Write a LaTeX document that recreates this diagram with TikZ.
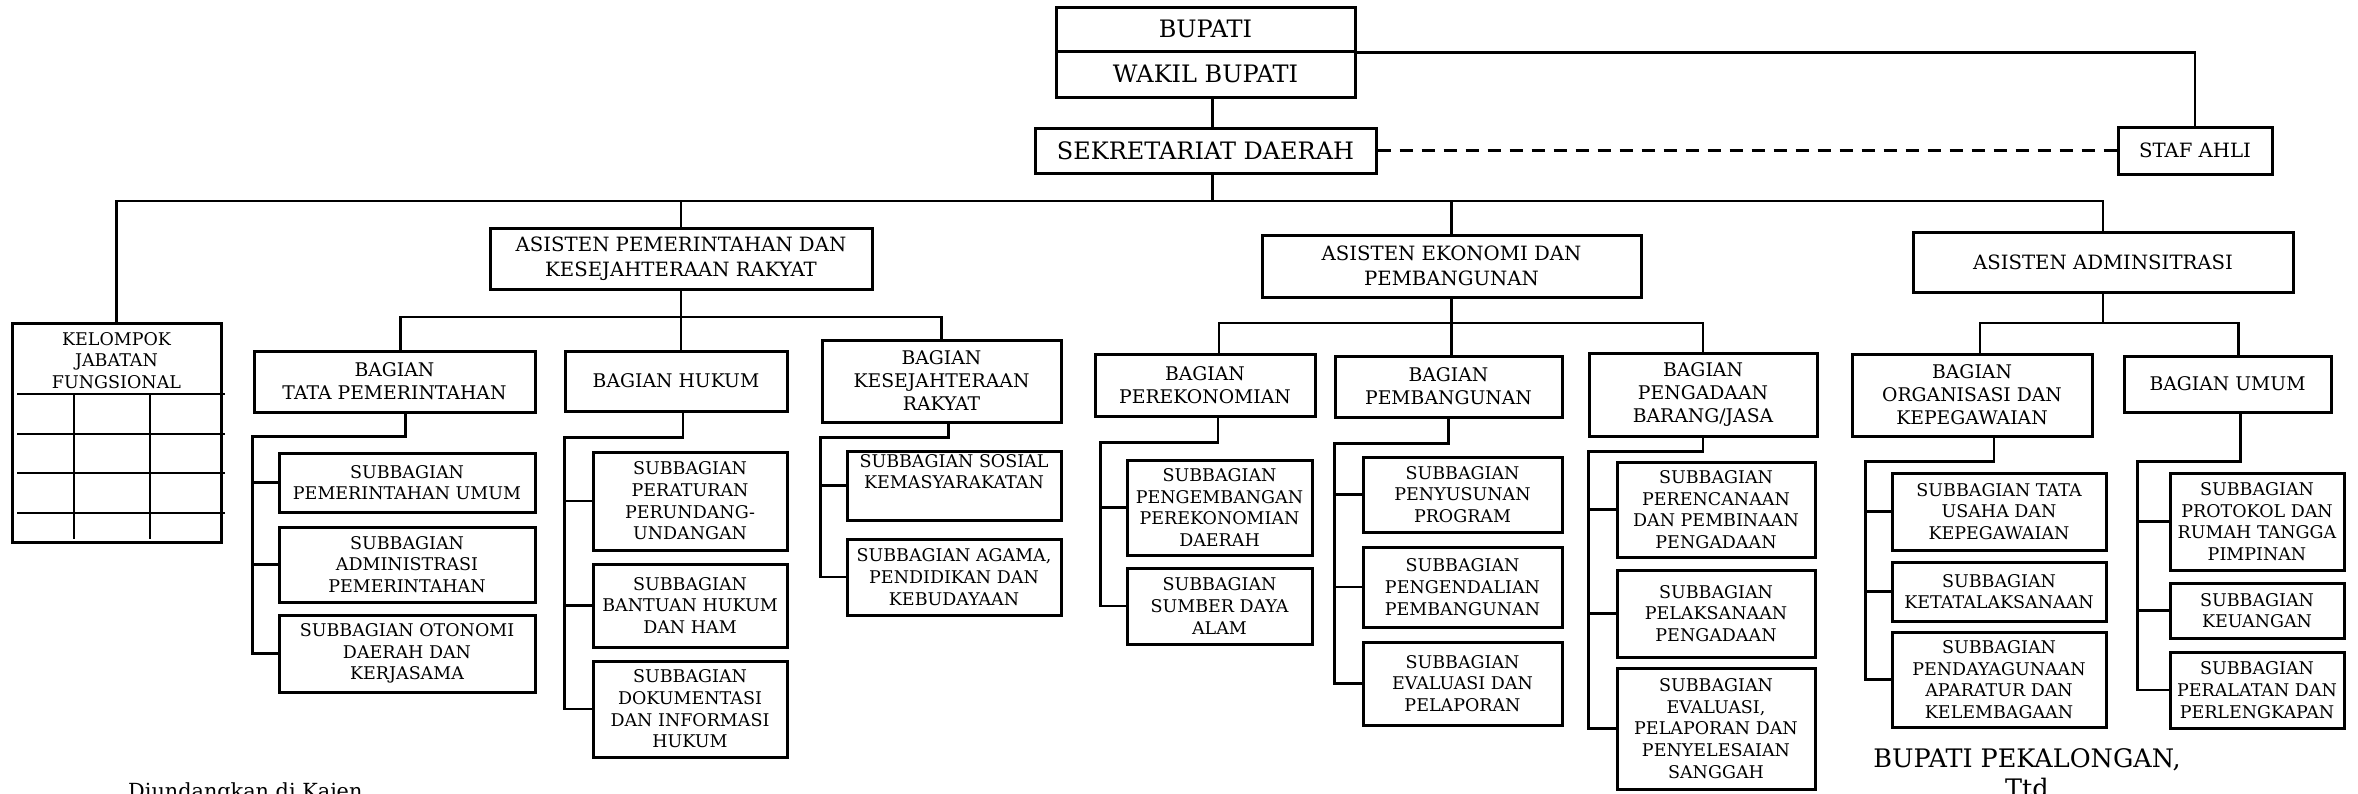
\documentclass[tikz,border=0pt]{standalone}
\usepackage{fontspec}
\setmainfont{DejaVu Serif}

\newcommand{\hrfpim}{\fontsize{24}{28}\selectfont}
\newcommand{\hrfas}{\fontsize{19.7}{25}\selectfont}
\newcommand{\hrfbag}{\fontsize{18.8}{23}\selectfont}
\newcommand{\hrfsub}{\fontsize{17.5}{21.7}\selectfont}

\tikzset{
  kotak/.style={draw, line width=3pt, align=center, inner sep=0pt},
  wh/.style 2 args={minimum width=#1, minimum height=#2},
  pimpinan/.style={kotak, font=\hrfpim},
  asisten/.style={kotak, font=\hrfas},
  bagian/.style={kotak, font=\hrfbag},
  subbag/.style={kotak, font=\hrfsub},
  garis/.style={line width=2.5pt},
}

\begin{document}
\begin{tikzpicture}[x=1pt, y=-1pt]
\useasboundingbox (0,0) rectangle (2358,793);

% pimpinan
\node[pimpinan, wh={299}{44}] (bupati) at (1205.5,29) {BUPATI};
\node[pimpinan, wh={299}{46}] (wakil) at (1205.5,74) {WAKIL BUPATI};
\node[pimpinan, wh={341}{45}] (sekda) at (1205.5,150.5) {SEKRETARIAT DAERAH};
\node[kotak, font=\fontsize{19.7}{24}\selectfont, wh={154}{47}] (staf) at (2195,150.5) {STAF AHLI};

% asisten
\node[asisten, wh={382}{61}] (aspem) at (681,258.5) {ASISTEN PEMERINTAHAN DAN\\KESEJAHTERAAN RAKYAT};
\node[asisten, wh={379}{62}] (aseko) at (1451.5,266) {ASISTEN EKONOMI DAN\\PEMBANGUNAN};
\node[asisten, wh={380}{60}] (asadm) at (2103,262) {ASISTEN ADMINSITRASI};

% kelompok jabatan fungsional
\node[kotak, wh={209}{219}] (kjf) at (116.5,432.5) {};
\node[font=\hrfsub, align=center, inner sep=0pt, anchor=north] (kjfteks) at (116.5,332) {KELOMPOK\\JABATAN\\FUNGSIONAL};
\foreach \y in {394,434,473,513}
  \draw[garis] (17,\y) -- (225,\y);
\foreach \x in {74,150}
  \draw[garis] (\x,394) -- (\x,539);

% bagian
\node[bagian, wh={281}{61}] (tapem) at (394.5,381.5) {BAGIAN\\TATA PEMERINTAHAN};
\node[bagian, wh={222}{60}] (hukum) at (676,381) {BAGIAN HUKUM};
\node[bagian, wh={239}{82}] (kesra) at (941.5,381) {BAGIAN\\KESEJAHTERAAN\\RAKYAT};
\node[bagian, wh={220}{62}] (ekon) at (1205,385) {BAGIAN\\PEREKONOMIAN};
\node[bagian, wh={227}{61}] (pemb) at (1448.5,386.5) {BAGIAN\\PEMBANGUNAN};
\node[bagian, wh={228}{83}] (pbj) at (1703,394.5) {BAGIAN\\PENGADAAN\\BARANG/JASA};
\node[bagian, wh={240}{82}] (org) at (1972,395) {BAGIAN\\ORGANISASI DAN\\KEPEGAWAIAN};
\node[bagian, wh={207}{56}] (umum) at (2227.5,384) {BAGIAN UMUM};

% subbagian
\node[subbag, wh={256}{59}] (s11) at (407,482.5) {SUBBAGIAN\\PEMERINTAHAN UMUM};
\node[subbag, wh={256}{75}] (s12) at (407,564.5) {SUBBAGIAN\\ADMINISTRASI\\PEMERINTAHAN};
\node[subbag, wh={256}{77}] (s13) at (407,653.5) {SUBBAGIAN OTONOMI\\DAERAH DAN\\KERJASAMA};

\node[subbag, wh={194}{98}] (s21) at (690,501) {SUBBAGIAN\\PERATURAN\\PERUNDANG-\\UNDANGAN};
\node[subbag, wh={194}{83}] (s22) at (690,605.5) {SUBBAGIAN\\BANTUAN HUKUM\\DAN HAM};
\node[subbag, wh={194}{96}] (s23) at (690,709) {SUBBAGIAN\\DOKUMENTASI\\DAN INFORMASI\\HUKUM};

\node[subbag, wh={214}{69}] (s31) at (954,485.5) {SUBBAGIAN SOSIAL\\KEMASYARAKATAN\\\strut};
\node[subbag, wh={214}{76}] (s32) at (954,577) {SUBBAGIAN AGAMA,\\PENDIDIKAN DAN\\KEBUDAYAAN};

\node[subbag, wh={185}{95}] (s41) at (1219.5,507.5) {SUBBAGIAN\\PENGEMBANGAN\\PEREKONOMIAN\\DAERAH};
\node[subbag, wh={185}{76}] (s42) at (1219.5,606) {SUBBAGIAN\\SUMBER DAYA\\ALAM};

\node[subbag, wh={199}{75}] (s51) at (1462.5,494.5) {SUBBAGIAN\\PENYUSUNAN\\PROGRAM};
\node[subbag, wh={199}{80}] (s52) at (1462.5,587) {SUBBAGIAN\\PENGENDALIAN\\PEMBANGUNAN};
\node[subbag, wh={199}{83}] (s53) at (1462.5,683.5) {SUBBAGIAN\\EVALUASI DAN\\PELAPORAN};

\node[subbag, wh={198}{95}] (s61) at (1716,509.5) {SUBBAGIAN\\PERENCANAAN\\DAN PEMBINAAN\\PENGADAAN};
\node[subbag, wh={198}{87}] (s62) at (1716,613.5) {SUBBAGIAN\\PELAKSANAAN\\PENGADAAN};
\node[subbag, wh={198}{121}] (s63) at (1716,728.5) {SUBBAGIAN\\EVALUASI,\\PELAPORAN DAN\\PENYELESAIAN\\SANGGAH};

\node[subbag, wh={214}{77}] (s71) at (1999,511.5) {SUBBAGIAN TATA\\USAHA DAN\\KEPEGAWAIAN};
\node[subbag, wh={214}{59}] (s72) at (1999,591.5) {SUBBAGIAN\\KETATALAKSANAAN};
\node[subbag, wh={214}{95}] (s73) at (1999,679.5) {SUBBAGIAN\\PENDAYAGUNAAN\\APARATUR DAN\\KELEMBAGAAN};

\node[subbag, wh={174}{97}] (s81) at (2257,521.5) {SUBBAGIAN\\PROTOKOL DAN\\RUMAH TANGGA\\PIMPINAN};
\node[subbag, wh={174}{55}] (s82) at (2257,610.5) {SUBBAGIAN\\KEUANGAN};
\node[subbag, wh={174}{76}] (s83) at (2257,690) {SUBBAGIAN\\PERALATAN DAN\\PERLENGKAPAN};

% garis pimpinan
\draw[garis] (bupati.south east) -| (staf.north);
\draw[garis] ([xshift=7pt]wakil.south) -- ([xshift=7pt]sekda.north);
\draw[garis, line width=3pt, dash pattern=on 13pt off 9pt] (sekda.east) -- (staf.west);
\coordinate (bus) at (117,201);
\draw[garis] ([xshift=7pt]sekda.south) -- ([xshift=7pt]sekda.south |- bus);
\draw[garis] (kjf.north) |- (asadm.north |- bus) -- (asadm.north);
\draw[garis] (aspem.north) -- (aspem.north |- bus);
\draw[garis] (aseko.north) -- (aseko.north |- bus);

% asisten ke bagian
\coordinate (bus1) at (400,317);
\draw[garis] (aspem.south) -- (aspem.south |- hukum.north);
\draw[garis] ([xshift=6pt]tapem.north) |- (kesra.north |- bus1) -- (kesra.north);
\coordinate (bus2) at (1219,323);
\draw[garis] (aseko.south) -- (aseko.south |- pemb.north);
\draw[garis] ([xshift=14pt]ekon.north) |- (pbj.north |- bus2) -- (pbj.north);
\draw[garis] (asadm.south) -- (asadm.south |- bus2);
\draw[garis] ([xshift=8pt]org.north) |- ([xshift=11pt]umum.north |- bus2) -- ([xshift=11pt]umum.north);

% bagian ke subbagian
\draw[garis] ([xshift=11pt]tapem.south) -- ++(0,23) -| ([xshift=-25pt]s13.west) -- (s13.west);
\foreach \s in {s11,s12}
  \draw[garis] (\s.west) -- ++(-25,0);
\draw[garis] ([xshift=7pt]hukum.south) -- ++(0,25) -| ([xshift=-27pt]s23.west) -- (s23.west);
\foreach \s in {s21,s22}
  \draw[garis] (\s.west) -- ++(-27,0);
\draw[garis] ([xshift=7pt]kesra.south) -- ++(0,14) -| ([xshift=-25pt]s32.west) -- (s32.west);
\draw[garis] (s31.west) -- ++(-25,0);
\draw[garis] ([xshift=13pt]ekon.south) -- ++(0,25) -| ([xshift=-25pt]s42.west) -- (s42.west);
\draw[garis] (s41.west) -- ++(-25,0);
\draw[garis] (pemb.south) -- ++(0,25) -| ([xshift=-27pt]s53.west) -- (s53.west);
\foreach \s in {s51,s52}
  \draw[garis] (\s.west) -- ++(-27,0);
\draw[garis] (pbj.south) -- ++(0,14) -| ([xshift=-27pt]s63.west) -- (s63.west);
\foreach \s in {s61,s62}
  \draw[garis] (\s.west) -- ++(-27,0);
\draw[garis] ([xshift=22pt]org.south) -- ++(0,24) -| ([xshift=-25pt]s73.west) -- (s73.west);
\foreach \s in {s71,s72}
  \draw[garis] (\s.west) -- ++(-25,0);
\draw[garis] ([xshift=13pt]umum.south) -- ++(0,48) -| ([xshift=-31pt]s83.west) -- (s83.west);
\foreach \s in {s81,s82}
  \draw[garis] (\s.west) -- ++(-31,0);

% pengesahan
\node[font=\fontsize{25.5}{30}\selectfont, inner sep=0pt, anchor=base] (ttdbupati) at (2027,767) {BUPATI PEKALONGAN,};
\node[font=\fontsize{25.5}{30}\selectfont, inner sep=0pt, anchor=base] (ttd) at (2027,797) {Ttd};
\node[font=\fontsize{20.8}{25}\selectfont, inner sep=0pt, anchor=base west] (diundangkan) at (128,798) {Diundangkan di Kajen};
\end{tikzpicture}
\end{document}
